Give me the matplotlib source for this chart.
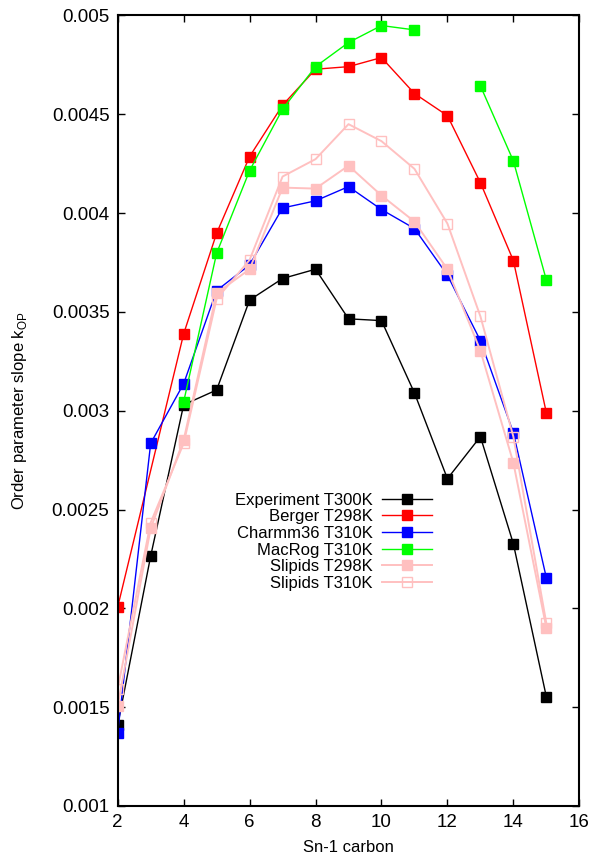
import numpy as np
import matplotlib
matplotlib.use('Agg')
from matplotlib import pyplot as plt
from matplotlib.ticker import FormatStrFormatter

plt.rcParams['font.family'] = ['Liberation Sans', 'DejaVu Sans']
plt.rcParams['font.size'] = 12

carbons = np.arange(2, 16)

# slope of the order parameter per Sn-1 carbon, nan where no value
experiment_300 = [0.00141, 0.002265, 0.00303, 0.003105, 0.00356, 0.003669, 0.003716,
                  0.003465, 0.003456, 0.00309, 0.002656, 0.002869, 0.002327, 0.001553]
berger_298 = [0.002007, np.nan, 0.003389, 0.003898, 0.004286, 0.004546, 0.004728,
              0.004741, 0.004787, 0.004605, 0.004493, 0.004154, 0.00376, 0.00299]
charmm36_310 = [0.001371, 0.002835, 0.003137, 0.003608, 0.003738, 0.004026, 0.004062,
                0.004134, 0.004018, 0.003922, 0.003686, 0.003355, 0.002889, 0.002155]
macrog_310 = [np.nan, np.nan, 0.003045, 0.003797, 0.004215, 0.004526, 0.004741,
              0.004863, 0.004949, 0.004927, np.nan, 0.004644, 0.004264, 0.003662]
slipids_298 = [0.001508, 0.002405, 0.002852, 0.003595, 0.003716, 0.004129, 0.004124,
               0.00424, 0.004089, 0.003957, 0.003716, 0.003304, 0.002737, 0.001902]
slipids_310 = [0.001594, 0.002434, 0.002835, 0.003566, 0.003763, 0.004185, 0.004273,
               0.00445, 0.004364, 0.004224, 0.003947, 0.003478, 0.002869, 0.001925]

pink = '#ffc0c0'

fig = plt.figure(figsize=(5.93, 8.59), dpi=100)
ax = fig.add_axes([0.1985, 0.0617, 0.7784, 0.9203])

def series(y, label, color, lw=1.0, filled=True):
    # red line continues across the missing carbon 3, green breaks at 12
    x = np.array(carbons, dtype=float)
    y = np.array(y, dtype=float)
    if label.startswith('Berger'):
        keep = ~np.isnan(y)
        x, y = x[keep], y[keep]
    ax.plot(x, y, '-s', color=color, lw=lw, ms=7,
            mfc=color if filled else 'none', mec=color, mew=1.0, label=label)

series(experiment_300, 'Experiment T300K', 'black')
series(berger_298, 'Berger T298K', 'red')
series(charmm36_310, 'Charmm36 T310K', 'blue')
series(macrog_310, 'MacRog T310K', '#00ff00')
series(slipids_298, 'Slipids T298K', pink, lw=1.4)
series(slipids_310, 'Slipids T310K', pink, lw=1.4, filled=False)

ax.set_xlim(2, 16)
ax.set_ylim(0.001, 0.005)
ax.set_xticks(np.arange(2, 17, 2))
ax.set_yticks(np.arange(0.001, 0.00501, 0.0005))
ax.yaxis.set_major_formatter(FormatStrFormatter('%g'))
ax.tick_params(direction='in', length=5, width=1, top=True, right=True,
               labelsize=13.5)
ax.tick_params(axis='x', pad=6)
ax.tick_params(axis='y', pad=6)
for s in ax.spines.values():
    s.set_linewidth(1.5)

ax.set_xlabel('Sn-1 carbon', fontsize=12, labelpad=6)
ax.set_ylabel('Order parameter slope k$_{\\mathregular{OP}}$', fontsize=12, labelpad=16)

leg = ax.legend(loc='upper right', bbox_to_anchor=(0.70, 0.407), frameon=False,
                markerfirst=False, handlelength=3.0, handletextpad=0.6,
                labelspacing=0.1, borderpad=0, fontsize=12)

fig.savefig('out.png', dpi=100)
